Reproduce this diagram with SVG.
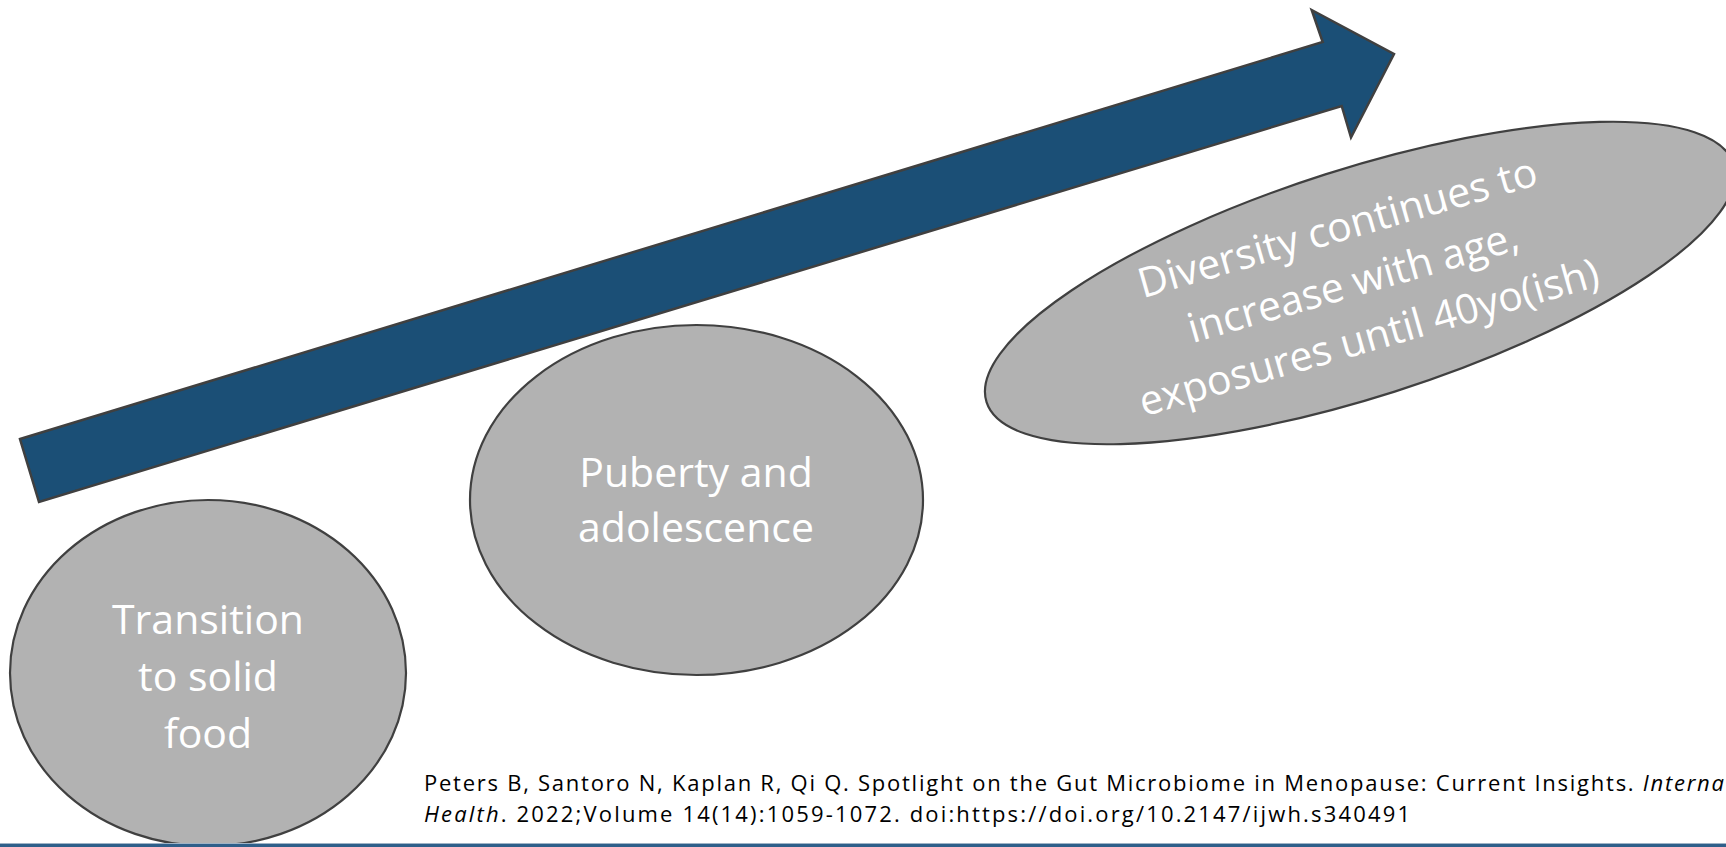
<svg xmlns="http://www.w3.org/2000/svg" width="1726" height="847" viewBox="0 0 1726 847">
<style>
.shape{fill:#b2b2b2;stroke:#404040;stroke-width:2.2}
.lbl{font-family:"Open Sans","Liberation Sans",sans-serif;font-size:41px;fill:#ffffff;text-anchor:middle}
.cite{font-family:"Open Sans","Liberation Sans",sans-serif;font-size:22px;fill:#000000}
</style>
<rect width="1726" height="847" fill="#ffffff"/>
<g id="connectors">
<polygon id="arrow" points="20,439 1322.7,42 1311.7,10 1394,54 1351,137.5 1341.7,106 39,502" fill="#1b4f76" stroke="#404040" stroke-width="2.5" stroke-linejoin="miter"/>
</g>
<g id="node-transition">
<ellipse class="shape" cx="208" cy="673" rx="198" ry="173"/>
<text class="lbl" x="208" y="634">Transition</text>
<text class="lbl" x="208" y="691">to solid</text>
<text class="lbl" x="208" y="748">food</text>
</g>
<g id="node-puberty">
<ellipse class="shape" cx="696.5" cy="500" rx="226.5" ry="175"/>
<text class="lbl" x="696" y="487">Puberty and</text>
<text class="lbl" x="696" y="542">adolescence</text>
</g>
<g id="node-diversity">
<ellipse class="shape" cx="1360" cy="283" rx="392" ry="114" transform="rotate(-17.7 1360 283)"/>
<g transform="translate(1357 296) rotate(-16)">
<text class="lbl" x="0" y="-57">Diversity continues to</text>
<text class="lbl" x="0" y="0">increase with age,</text>
<text class="lbl" x="0" y="57">exposures until 40yo(ish)</text>
</g>
</g>
<g id="citation">
<text class="cite" x="424" y="791" textLength="1300" lengthAdjust="spacing">Peters B, Santoro N, Kaplan R, Qi Q. Spotlight on the Gut Microbiome in Menopause: Current Insights. <tspan font-style="italic">Interna</tspan></text>
<text class="cite" x="424" y="822" textLength="986" lengthAdjust="spacing"><tspan font-style="italic">Health</tspan>. 2022;Volume 14(14):1059-1072. doi:https://doi.org/10.2147/ijwh.s340491</text>
</g>
<rect x="0" y="843" width="1726" height="1" fill="#9fb3c6"/>
<rect x="0" y="844" width="1726" height="3" fill="#2e5f8a"/>
</svg>
